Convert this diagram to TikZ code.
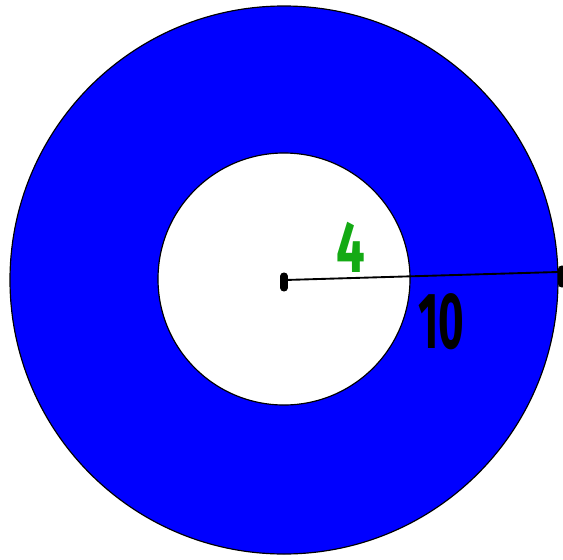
\documentclass[tikz,border=0pt]{standalone}
\usepackage{fontspec}
\setsansfont{Fira Sans}
\usepackage{tikz}
\usetikzlibrary{positioning, calc}

\definecolor{ringblue}{RGB}{0,0,255}
\definecolor{labelgreen}{RGB}{20,170,20}

\begin{document}
\begin{tikzpicture}[
    x=0.03cm, y=-0.03cm,
    ring/.style={fill=ringblue, draw=black, line width=1pt, even odd rule},
    radius line/.style={draw=black, line width=1.6pt},
    tick/.style={draw=black, line width=6pt, line cap=round},
    handnum/.style={font=\sffamily\bfseries, inner sep=0pt}
]
\useasboundingbox (0,0) rectangle (563,559);
% annulus
\path[ring] (284,280) circle[radius=274] (284,279) circle[radius=126];
% radius marker
\coordinate (ctr) at (285,280);
\coordinate (rim) at (558,272);
\draw[radius line] (ctr) -- (rim);
\draw[tick] ($(ctr)+(-1,-4)$) -- ($(ctr)+(-1,8)$);
\draw[tick] ($(rim)+(4,-3)$) -- ($(rim)+(4,12)$);
% labels
\node[handnum, text=labelgreen, xscale=0.7] (inner) at (351,247) {\fontsize{62}{62}\selectfont 4};
\node[handnum, text=black, xscale=0.55] (outer) at (441,322) {\fontsize{68}{68}\selectfont 10};
\end{tikzpicture}
\end{document}
